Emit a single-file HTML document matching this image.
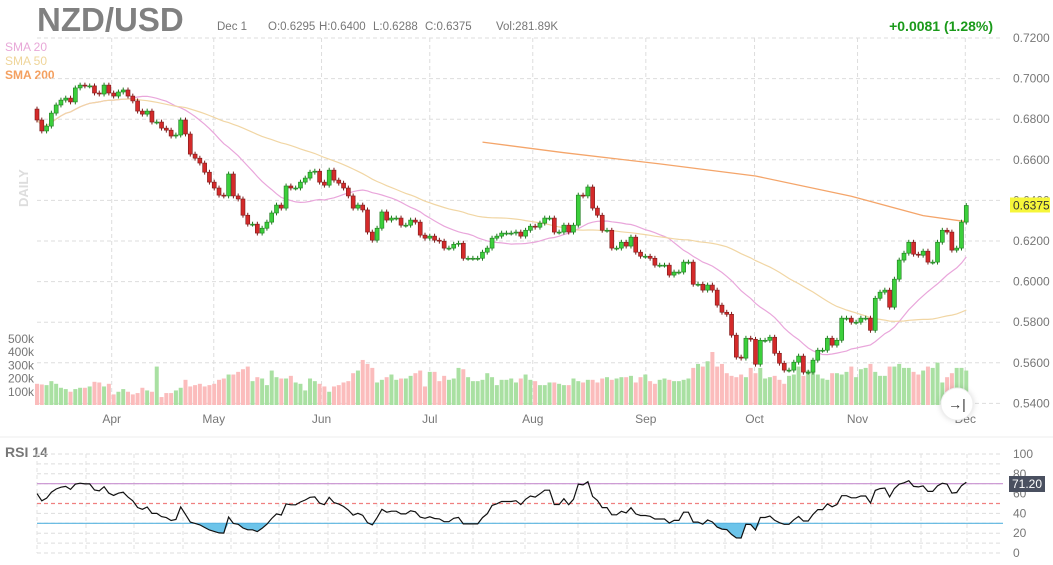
<!DOCTYPE html>
<html><head><meta charset="utf-8"><style>
body{margin:0;background:#fff;width:1053px;height:565px;overflow:hidden;font-family:"Liberation Sans",sans-serif;}
svg{display:block}
</style></head><body>
<svg id="chart" width="1053" height="565" font-family="Liberation Sans, sans-serif">
<text x="37" y="31" font-size="33" font-weight="bold" fill="#808080">NZD/USD</text>
<text x="217" y="30" font-size="11.5" fill="#777">Dec 1<tspan x="268">O:0.6295</tspan><tspan x="319">H:0.6400</tspan><tspan x="373">L:0.6288</tspan><tspan x="425">C:0.6375</tspan><tspan x="496">Vol:281.89K</tspan></text>
<text x="993" y="31" font-size="14" font-weight="bold" fill="#1a9a1a" text-anchor="end">+0.0081 (1.28%)</text>
<text x="5" y="51" font-size="12" fill="#e8a8d8">SMA 20</text>
<text x="5" y="65" font-size="12" fill="#efd59a">SMA 50</text>
<text x="5" y="79" font-size="12" font-weight="bold" fill="#f4a060">SMA 200</text>
<text x="0" y="0" font-size="13" font-weight="bold" fill="#ddd" transform="translate(28,207) rotate(-90)">DAILY</text>
<line x1="0" y1="437" x2="1053" y2="437" stroke="#eee"/>
<text x="5" y="457" font-size="14" font-weight="bold" fill="#777">RSI 14</text>
<g id="grid"></g><g id="vol"></g><g id="sma"></g><g id="candles"></g><g id="rsi"></g><g id="labels"></g>
<g>
<circle cx="957" cy="404" r="16" fill="#fff" stroke="#eee" style="filter:drop-shadow(0 0 3px rgba(0,0,0,0.15))"/>
<text x="957" y="409" font-size="14" text-anchor="middle" fill="#333">→|</text></g>
</svg>
<script>
const closes=[0.6796,0.6742,0.6766,0.6830,0.6870,0.6894,0.6904,0.6885,0.6954,0.6968,0.6964,0.6964,0.6929,0.6924,0.6968,0.6929,0.6914,0.6934,0.6944,0.6914,
0.6890,0.6840,0.6825,0.6840,0.6786,0.6786,0.6756,0.6746,0.6717,0.6722,0.6796,0.6727,0.6628,0.6608,0.6584,0.6539,0.6490,0.6461,0.6426,0.6422,
0.6530,0.6422,0.6407,0.6327,0.6283,0.6283,0.6239,0.6263,0.6293,0.6338,0.6377,0.6362,0.6471,0.6461,0.6461,0.6490,0.6510,0.6539,0.6544,0.6490,
0.6475,0.6549,0.6500,0.6485,0.6461,0.6422,0.6362,0.6377,0.6353,0.6244,0.6204,0.6263,0.6343,0.6303,0.6313,0.6313,0.6278,0.6278,0.6303,0.6293,
0.6229,0.6214,0.6224,0.6204,0.6199,0.6165,0.6165,0.6184,0.6189,0.6115,0.6115,0.6115,0.6115,0.6145,0.6165,0.6214,0.6224,0.6239,0.6239,0.6239,
0.6244,0.6224,0.6253,0.6273,0.6268,0.6288,0.6313,0.6313,0.6244,0.6244,0.6278,0.6244,0.6278,0.6426,0.6422,0.6466,0.6362,0.6327,0.6253,0.6253,
0.6165,0.6165,0.6194,0.6175,0.6219,0.6145,0.6125,0.6125,0.6115,0.6081,0.6081,0.6081,0.6032,0.6047,0.6047,0.6096,0.6096,0.5987,0.5987,0.5958,
0.5983,0.5958,0.5884,0.5849,0.5839,0.5736,0.5628,0.5623,0.5721,0.5716,0.5593,0.5711,0.5711,0.5726,0.5647,0.5598,0.5564,0.5564,0.5603,0.5633,
0.5554,0.5554,0.5613,0.5662,0.5662,0.5721,0.5687,0.5711,0.5820,0.5820,0.5800,0.5800,0.5820,0.5820,0.5760,0.5918,0.5948,0.5958,0.5874,0.6012,
0.6106,0.6140,0.6194,0.6135,0.6130,0.6150,0.6096,0.6096,0.6194,0.6253,0.6244,0.6155,0.6165,0.6293,0.6375];
const volumes=[160,155,150,180,160,130,120,100,120,130,130,140,175,170,140,160,80,100,120,100,
80,90,130,110,100,290,60,90,90,110,130,190,140,150,160,140,150,160,190,200,
230,230,250,270,290,180,210,200,150,260,210,200,200,220,170,160,110,200,180,160,
140,100,140,150,170,180,240,260,340,310,280,170,190,210,230,190,200,200,220,240,
260,140,250,250,180,220,190,200,280,270,210,180,180,190,240,210,150,190,190,
200,170,200,230,190,180,150,150,170,170,160,150,150,200,180,170,190,190,170,200,
210,190,200,210,210,220,170,210,230,180,160,190,200,190,180,180,190,200,280,310,
290,330,400,290,310,240,220,210,230,210,280,240,280,200,210,220,190,160,220,230,
290,220,260,260,230,200,190,240,240,230,250,290,210,270,280,310,250,220,220,290,
290,310,280,280,250,230,260,290,280,320,170,210,240,280,280,260];
const sma200Idx=[93,110,130,150,170,185,194];
const sma200Val=[0.6687,0.6635,0.6580,0.6520,0.6420,0.6325,0.6295];
const months=["Apr","May","Jun","Jul","Aug","Sep","Oct","Nov","Dec"];
const monthIdx=[15.6,36.9,59.4,82,103.5,127.1,149.8,171.3,193.8];
const priceTicks=[0.72,0.70,0.68,0.66,0.64,0.62,0.60,0.58,0.56,0.54];
const volTicks=[100,200,300,400,500];
const rsiTicks=[100,80,60,40,20,0];
const lastRsiLabel="71.20";

const NS="http://www.w3.org/2000/svg";
function mk(tag,attrs,parent){const e=document.createElementNS(NS,tag);for(const k in attrs)e.setAttribute(k,attrs[k]);parent.appendChild(e);return e;}
const X=i=>37+i*4.79;
const Y=p=>38+(0.72-p)*2030;
const VY=v=>405-v*0.1325;
const RY=r=>553-r*0.99;
const G=document.getElementById('grid'),V=document.getElementById('vol'),S=document.getElementById('sma'),C=document.getElementById('candles'),R=document.getElementById('rsi'),L=document.getElementById('labels');

priceTicks.forEach(p=>{
 const l=mk('line',{x1:37,x2:1003,y1:Y(p),y2:Y(p),stroke:'#ddd','stroke-dasharray':'4,3'},G);
 
 const t=mk('text',{x:1013,y:Y(p)+4,'font-size':12,fill:'#777'},L);t.textContent=p.toFixed(4);
 
});
months.forEach((m,k)=>{
 const x=X(monthIdx[k]);
 const l=mk('line',{x1:x,x2:x,y1:38,y2:405,stroke:'#ddd','stroke-dasharray':'4,3'},G);
 
 const t=mk('text',{x:x,y:423,'font-size':12,fill:'#777','text-anchor':'middle'},L);t.textContent=m;
 
});
volTicks.forEach(v=>{
 const t=mk('text',{x:8,y:VY(v)+4,'font-size':12,fill:'#777'},L);t.textContent=v+'k';
 
});
closes.forEach((c,i)=>{
 const o=i?closes[i-1]:0.6850;
 const b=mk('rect',{x:X(i)-2,y:VY(volumes[i]),width:4,height:405-VY(volumes[i]),fill:c>=o?'#a9e0a2':'#fbbcbc'},V);
 
});
function sma(n){return closes.map((c,i)=>{const s=closes.slice(Math.max(0,i-n+1),i+1);return s.reduce((a,b)=>a+b,0)/s.length;});}
[[20,'#e9a6db'],[50,'#f1d6a4']].forEach(([n,col])=>{
 const d=sma(n).map((v,i)=>(i?'L':'M')+X(i).toFixed(1)+','+Y(v).toFixed(1)).join('');
 const p=mk('path',{d:d,fill:'none',stroke:col,'stroke-width':1.2},S);
 
});
{const d=sma200Idx.map((ix,k)=>(k?'L':'M')+X(ix).toFixed(1)+','+Y(sma200Val[k]).toFixed(1)).join('');
 const p=mk('path',{d:d,fill:'none',stroke:'#f4a56a','stroke-width':1.3},S);
 }
closes.forEach((c,i)=>{
 const o=i?closes[i-1]:0.6850;const up=c>=o;
 const hi=Math.max(o,c)+0.0012,lo=Math.min(o,c)-0.0012;
 const g=mk('g',{},C);
 
 mk('line',{x1:X(i),x2:X(i),y1:Y(hi),y2:Y(lo),stroke:up?'#1d7a1d':'#7a1a1a','stroke-width':1},g);
 const top=Y(Math.max(o,c)),h=Math.max(1,Y(Math.min(o,c))-top);
 mk('rect',{x:X(i)-2,y:top,width:4,height:h,fill:up?'#3ccf3c':'#d42a2a',stroke:up?'#1d7a1d':'#7a1a1a','stroke-width':0.6},g);
});
{const r=mk('rect',{x:1010,y:Y(0.6375)-8,width:40,height:15,fill:'#f6f63a'},L);
 
 const t=mk('text',{x:1013,y:Y(0.6375)+4,'font-size':12,fill:'#333'},L);t.textContent='0.6375';}
for(let r=0;r<=100;r+=10){const l=mk('line',{x1:37,x2:1003,y1:RY(r),y2:RY(r),stroke:'#ddd','stroke-dasharray':'4,3'},R);
 }
[37,86,134,183,231,279,328,377,425,473,525,578,627,675,725,773,822,871,921,967].forEach(x=>{
 const l=mk('line',{x1:x,x2:x,y1:RY(100),y2:RY(0),stroke:'#e2e2e2','stroke-dasharray':'4,3'},R);
 });
rsiTicks.forEach(r=>{const t=mk('text',{x:1013,y:RY(r)+4,'font-size':12,fill:'#777'},L);t.textContent=r;
 });
const rsi=(()=>{let ag=0.0018,al=0.0012;const out=[];const n=14;
 for(let i=0;i<closes.length;i++){const ch=i?closes[i]-closes[i-1]:0;const g=Math.max(ch,0),l=Math.max(-ch,0);
  if(i>0){ag=(ag*(n-1)+g)/n;al=(al*(n-1)+l)/n;}
  out.push(al===0?60:100-100/(1+ag/al));}
 return out;})();
{const fill=rsi.map((v,i)=>(i?'L':'M')+X(i).toFixed(1)+','+RY(Math.min(v,30)).toFixed(1)).join('')+'L'+X(rsi.length-1)+','+RY(30)+'L'+X(0)+','+RY(30)+'Z';
 const f=mk('path',{d:fill,fill:'#6cc4ea'},R);}
[[70,'#c890d0','none','rsi-overbought-line'],[50,'#f08080','4,3','rsi-midline'],[30,'#5ab4e0','none','rsi-oversold-line']].forEach(([v,col,da,nm])=>{
 const l=mk('line',{x1:37,x2:1003,y1:RY(v),y2:RY(v),stroke:col,'stroke-dasharray':da,'stroke-width':1.2},R);
 });
{const d=rsi.map((v,i)=>(i?'L':'M')+X(i).toFixed(1)+','+RY(v).toFixed(1)).join('');
 const p=mk('path',{d:d,fill:'none',stroke:'#111','stroke-width':1.2},R);
 }
{const r=mk('rect',{x:1009,y:476,width:36,height:16,fill:'#4a5060'},L);
 
 const t=mk('text',{x:1012,y:488,'font-size':12,fill:'#fff'},L);t.textContent=lastRsiLabel;}
</script>
</body></html>
